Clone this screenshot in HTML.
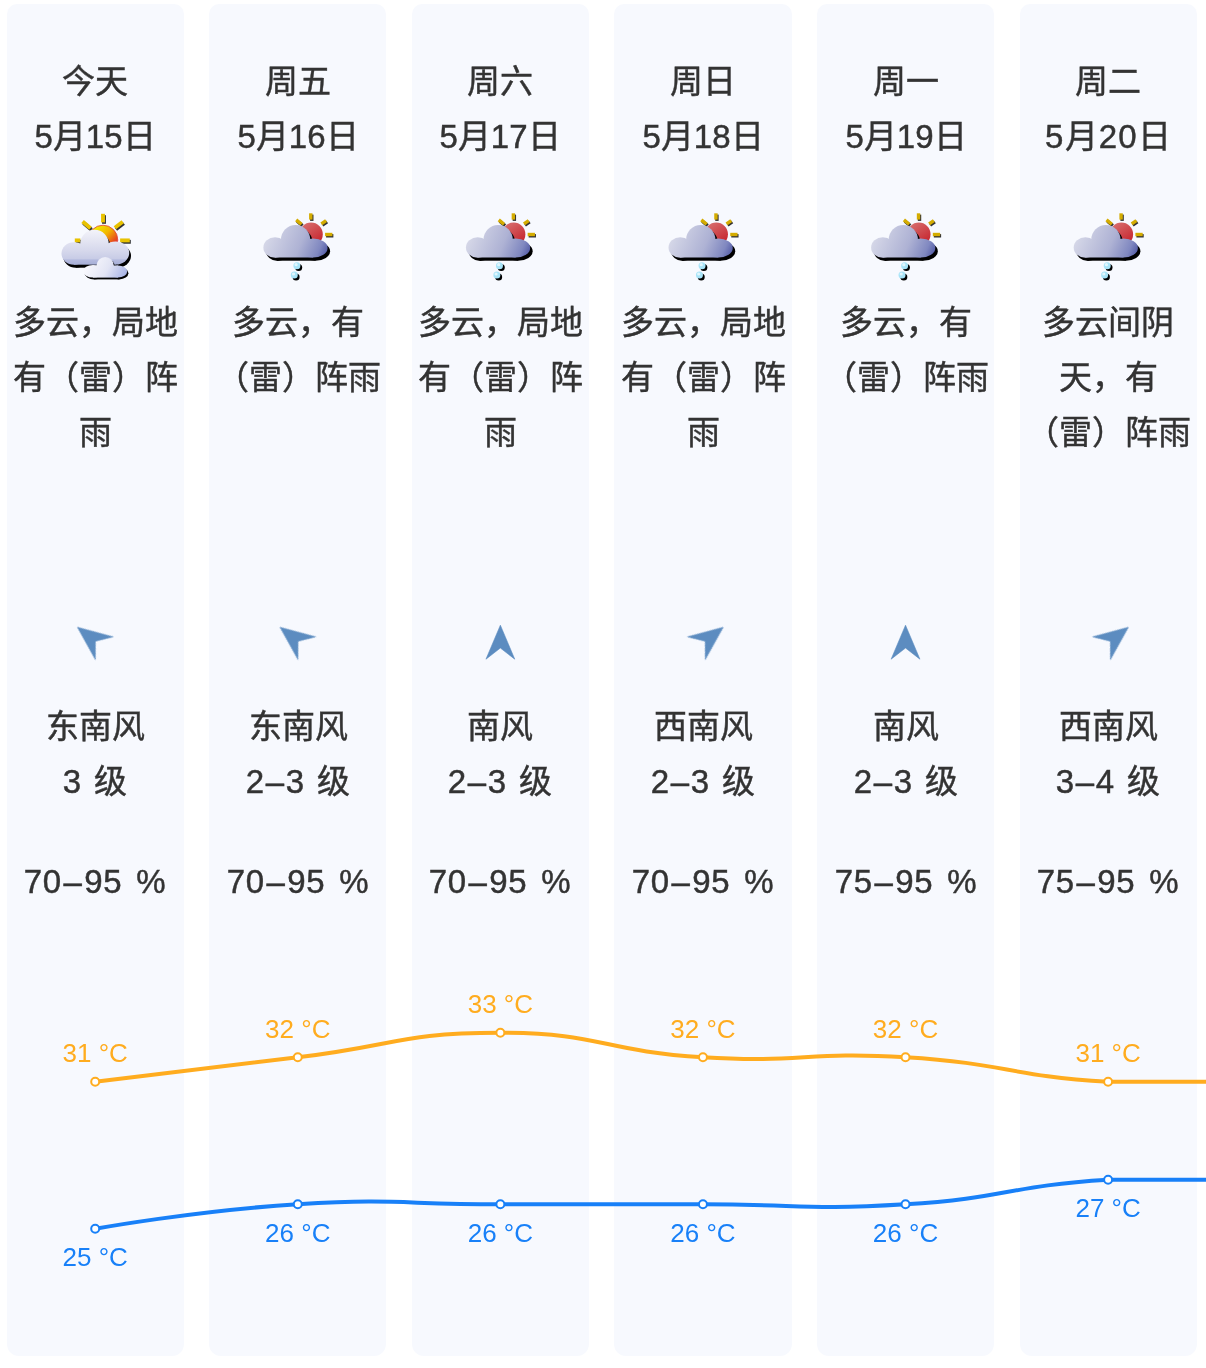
<!DOCTYPE html>
<html lang="zh-CN"><head><meta charset="utf-8"><style>
html,body{margin:0;padding:0;background:#fff;}
body{width:1206px;height:1368px;overflow:hidden;position:relative;font-family:"Liberation Sans",sans-serif;color:#333;}
.card{position:absolute;top:4px;width:177.2px;height:1352px;border-radius:10px 10px 12px 12px;background:#f7f9fe;}
.d{margin:0 1.6px;}
.t{will-change:transform;position:absolute;word-spacing:4px;width:240px;text-align:center;font-size:33px;line-height:55px;-webkit-text-stroke:0.45px #333;white-space:nowrap;}
svg{position:absolute;left:0;top:0;overflow:visible;}
</style></head><body>

<div class="card" style="left:6.70px"></div>
<div class="card" style="left:209.28px"></div>
<div class="card" style="left:411.86px"></div>
<div class="card" style="left:614.44px"></div>
<div class="card" style="left:817.02px"></div>
<div class="card" style="left:1019.60px"></div>
<div class="t" style="left:-24.80px;top:54px">今天<br>5月15日</div>
<div class="t" style="left:-24.80px;top:295px">多云，局地<br>有（雷）阵<br>雨</div>
<div class="t" style="left:-24.80px;top:699px">东南风<br>3 级</div>
<div class="t" style="left:-24.80px;top:854px;letter-spacing:0.7px">70<span class=d>–</span>95 %</div>
<div class="t" style="left:177.78px;top:54px">周五<br>5月16日</div>
<div class="t" style="left:177.78px;top:295px">多云，有<br>（雷）阵雨</div>
<div class="t" style="left:177.78px;top:699px">东南风<br>2<span class=d>–</span>3 级</div>
<div class="t" style="left:177.78px;top:854px;letter-spacing:0.7px">70<span class=d>–</span>95 %</div>
<div class="t" style="left:380.36px;top:54px">周六<br>5月17日</div>
<div class="t" style="left:380.36px;top:295px">多云，局地<br>有（雷）阵<br>雨</div>
<div class="t" style="left:380.36px;top:699px">南风<br>2<span class=d>–</span>3 级</div>
<div class="t" style="left:380.36px;top:854px;letter-spacing:0.7px">70<span class=d>–</span>95 %</div>
<div class="t" style="left:582.94px;top:54px">周日<br>5月18日</div>
<div class="t" style="left:582.94px;top:295px">多云，局地<br>有（雷）阵<br>雨</div>
<div class="t" style="left:582.94px;top:699px">西南风<br>2<span class=d>–</span>3 级</div>
<div class="t" style="left:582.94px;top:854px;letter-spacing:0.7px">70<span class=d>–</span>95 %</div>
<div class="t" style="left:785.52px;top:54px">周一<br>5月19日</div>
<div class="t" style="left:785.52px;top:295px">多云，有<br>（雷）阵雨</div>
<div class="t" style="left:785.52px;top:699px">南风<br>2<span class=d>–</span>3 级</div>
<div class="t" style="left:785.52px;top:854px;letter-spacing:0.7px">75<span class=d>–</span>95 %</div>
<div class="t" style="left:988.10px;top:54px">周二<br><span style="letter-spacing:1.2px;margin-right:-1.2px">5月20日</span></div>
<div class="t" style="left:988.10px;top:295px">多云间阴<br>天，有<br>（雷）阵雨</div>
<div class="t" style="left:988.10px;top:699px">西南风<br>3<span class=d>–</span>4 级</div>
<div class="t" style="left:988.10px;top:854px;letter-spacing:0.7px">75<span class=d>–</span>95 %</div>
<svg width="1206" height="1368" viewBox="0 0 1206 1368">
<defs><filter id="bl" x="-20%" y="-20%" width="140%" height="140%"><feGaussianBlur stdDeviation="0.45"/></filter><path id="arr" d="M0 -16.8 L14.4 17.2 L0 6 L-14.4 17.2 Z" fill="#5b8cc0" stroke="#5b8cc0" stroke-width="0.6" stroke-linejoin="round" filter="url(#bl)"/></defs>
<use href="#arr" transform="translate(90.70 637.6) rotate(-52)"/>
<use href="#arr" transform="translate(293.28 637.6) rotate(-52)"/>
<use href="#arr" transform="translate(500.36 642)"/>
<use href="#arr" transform="translate(709.94 637.6) rotate(52)"/>
<use href="#arr" transform="translate(905.52 642)"/>
<use href="#arr" transform="translate(1115.10 637.6) rotate(52)"/>
<path d="M95.20 1081.80 C95.20 1081.80 196.49 1069.55 297.78 1057.30 C399.07 1045.05 399.07 1032.80 500.36 1032.80 C601.65 1032.80 601.28 1051.15 702.94 1057.30 C803.86 1063.40 804.60 1051.20 905.52 1057.30 C1007.18 1063.45 1006.44 1075.65 1108.10 1081.80 C1209.02 1081.80 1310.68 1081.80 1310.68 1081.80" fill="none" stroke="#ffac1f" stroke-width="4"/>
<path d="M95.20 1228.80 C95.20 1228.80 196.12 1210.45 297.78 1204.30 C398.70 1198.20 399.07 1204.30 500.36 1204.30 C601.65 1204.30 601.65 1204.30 702.94 1204.30 C804.23 1204.30 804.60 1210.40 905.52 1204.30 C1007.18 1198.15 1006.44 1185.95 1108.10 1179.80 C1209.02 1179.80 1310.68 1179.80 1310.68 1179.80" fill="none" stroke="#1880f8" stroke-width="4"/>
<circle cx="95.20" cy="1081.80" r="4" fill="#fff" stroke="#ffac1f" stroke-width="2"/>
<circle cx="95.20" cy="1228.80" r="4" fill="#fff" stroke="#1880f8" stroke-width="2"/>
<text x="95.20" y="1062.30" text-anchor="middle" font-size="26" fill="#ffac1f" font-family="Liberation Sans">31 °C</text>
<text x="95.20" y="1266.30" text-anchor="middle" font-size="26" fill="#1880f8" font-family="Liberation Sans">25 °C</text>
<circle cx="297.78" cy="1057.30" r="4" fill="#fff" stroke="#ffac1f" stroke-width="2"/>
<circle cx="297.78" cy="1204.30" r="4" fill="#fff" stroke="#1880f8" stroke-width="2"/>
<text x="297.78" y="1037.80" text-anchor="middle" font-size="26" fill="#ffac1f" font-family="Liberation Sans">32 °C</text>
<text x="297.78" y="1241.80" text-anchor="middle" font-size="26" fill="#1880f8" font-family="Liberation Sans">26 °C</text>
<circle cx="500.36" cy="1032.80" r="4" fill="#fff" stroke="#ffac1f" stroke-width="2"/>
<circle cx="500.36" cy="1204.30" r="4" fill="#fff" stroke="#1880f8" stroke-width="2"/>
<text x="500.36" y="1013.30" text-anchor="middle" font-size="26" fill="#ffac1f" font-family="Liberation Sans">33 °C</text>
<text x="500.36" y="1241.80" text-anchor="middle" font-size="26" fill="#1880f8" font-family="Liberation Sans">26 °C</text>
<circle cx="702.94" cy="1057.30" r="4" fill="#fff" stroke="#ffac1f" stroke-width="2"/>
<circle cx="702.94" cy="1204.30" r="4" fill="#fff" stroke="#1880f8" stroke-width="2"/>
<text x="702.94" y="1037.80" text-anchor="middle" font-size="26" fill="#ffac1f" font-family="Liberation Sans">32 °C</text>
<text x="702.94" y="1241.80" text-anchor="middle" font-size="26" fill="#1880f8" font-family="Liberation Sans">26 °C</text>
<circle cx="905.52" cy="1057.30" r="4" fill="#fff" stroke="#ffac1f" stroke-width="2"/>
<circle cx="905.52" cy="1204.30" r="4" fill="#fff" stroke="#1880f8" stroke-width="2"/>
<text x="905.52" y="1037.80" text-anchor="middle" font-size="26" fill="#ffac1f" font-family="Liberation Sans">32 °C</text>
<text x="905.52" y="1241.80" text-anchor="middle" font-size="26" fill="#1880f8" font-family="Liberation Sans">26 °C</text>
<circle cx="1108.10" cy="1081.80" r="4" fill="#fff" stroke="#ffac1f" stroke-width="2"/>
<circle cx="1108.10" cy="1179.80" r="4" fill="#fff" stroke="#1880f8" stroke-width="2"/>
<text x="1108.10" y="1062.30" text-anchor="middle" font-size="26" fill="#ffac1f" font-family="Liberation Sans">31 °C</text>
<text x="1108.10" y="1217.30" text-anchor="middle" font-size="26" fill="#1880f8" font-family="Liberation Sans">27 °C</text>
<defs>
<linearGradient id="cg1" gradientUnits="userSpaceOnUse" x1="0" y1="229" x2="0" y2="265"><stop offset="0" stop-color="#f4f4fa"/><stop offset="0.6" stop-color="#d6d8ec"/><stop offset="0.82" stop-color="#c8cce6"/><stop offset="0.86" stop-color="#b4bade"/><stop offset="1" stop-color="#a6aed6"/></linearGradient>
<linearGradient id="cg1b" gradientUnits="userSpaceOnUse" x1="88" y1="258" x2="124" y2="278"><stop offset="0" stop-color="#fbfbfe"/><stop offset="0.55" stop-color="#e2e4f4"/><stop offset="1" stop-color="#a8b4e6"/></linearGradient>
<linearGradient id="sg1" gradientUnits="userSpaceOnUse" x1="96" y1="226" x2="116" y2="246"><stop offset="0" stop-color="#f0ee00"/><stop offset="0.45" stop-color="#f2b400"/><stop offset="0.8" stop-color="#e8501c"/><stop offset="1" stop-color="#e0283a"/></linearGradient>
<linearGradient id="cg2" gradientUnits="userSpaceOnUse" x1="268" y1="232" x2="326" y2="257"><stop offset="0" stop-color="#d6d8e8"/><stop offset="0.55" stop-color="#aeb2d4"/><stop offset="0.85" stop-color="#8088c0"/><stop offset="1" stop-color="#5058a4"/></linearGradient>
<linearGradient id="sg2" gradientUnits="userSpaceOnUse" x1="304" y1="222" x2="320" y2="246"><stop offset="0" stop-color="#d87070"/><stop offset="1" stop-color="#c41c26"/></linearGradient>
<linearGradient id="dg" gradientUnits="userSpaceOnUse" x1="0" y1="-3.5" x2="0" y2="3.5"><stop offset="0" stop-color="#d8f4fc"/><stop offset="1" stop-color="#8ad6f2"/></linearGradient>
<g id="icon1">
 <g stroke="#000" stroke-width="3.9" opacity="0.8" transform="translate(1,1.4)">
  <line x1="103" y1="213.8" x2="103" y2="222.4"/><line x1="82.6" y1="221.6" x2="90.5" y2="228.3"/><line x1="122.7" y1="221.8" x2="114.9" y2="227.8"/><line x1="74.8" y1="240.4" x2="80.3" y2="240.4"/><line x1="120.1" y1="240.4" x2="129.8" y2="240.4"/>
 </g>
 <g stroke="#e8c200" stroke-width="3.9">
  <line x1="103" y1="213.8" x2="103" y2="222.4"/><line x1="82.6" y1="221.6" x2="90.5" y2="228.3"/><line x1="122.7" y1="221.8" x2="114.9" y2="227.8"/><line x1="74.8" y1="240.4" x2="80.3" y2="240.4"/><line x1="120.1" y1="240.4" x2="129.8" y2="240.4"/>
 </g>
 <circle cx="103" cy="240" r="14.8" fill="url(#sg1)" stroke="#e04040" stroke-width="0.8"/>
 <g fill="#000" transform="translate(1.8,3)"><ellipse cx="74" cy="253.5" rx="12.5" ry="11.3"/><circle cx="94.5" cy="244" r="14.3"/><ellipse cx="115.5" cy="253" rx="13.7" ry="11.5"/><rect x="74" y="250" width="41.5" height="14.7"/></g>
 <g fill="url(#cg1)"><ellipse cx="74" cy="253.5" rx="12.5" ry="11.3"/><circle cx="94.5" cy="244" r="14.3"/><ellipse cx="115.5" cy="253" rx="13.7" ry="11.5"/><rect x="74" y="250" width="41.5" height="14.7"/></g>
 <g fill="#000" transform="translate(1.2,1.8)"><circle cx="105.2" cy="265.5" r="8.6"/><ellipse cx="93" cy="271.3" rx="9.8" ry="6.3"/><ellipse cx="118" cy="271.5" rx="9.2" ry="6.1"/><rect x="93" y="265.5" width="25" height="12.1"/></g>
 <g fill="url(#cg1b)"><circle cx="105.2" cy="265.5" r="8.6"/><ellipse cx="93" cy="271.3" rx="9.8" ry="6.3"/><ellipse cx="118" cy="271.5" rx="9.2" ry="6.1"/><rect x="93" y="265.5" width="25" height="12.1"/></g>
</g>
<g id="icon2">
 <g stroke="#000" stroke-width="3.4" opacity="0.8" transform="translate(1,1.3)">
  <line x1="310.7" y1="213.3" x2="310.7" y2="219.6"/><line x1="296.1" y1="219.9" x2="301.4" y2="224.3"/><line x1="326" y1="220.6" x2="321.3" y2="223.9"/><line x1="325" y1="234.5" x2="332.3" y2="234.5"/>
 </g>
 <g stroke="#d4ac00" stroke-width="3.4">
  <line x1="310.7" y1="213.3" x2="310.7" y2="219.6"/><line x1="296.1" y1="219.9" x2="301.4" y2="224.3"/><line x1="326" y1="220.6" x2="321.3" y2="223.9"/><line x1="325" y1="234.5" x2="332.3" y2="234.5"/>
 </g>
 <circle cx="311" cy="234.2" r="11.7" fill="url(#sg2)"/>
 <g fill="#000" transform="translate(2.5,3.2)"><ellipse cx="275" cy="247.5" rx="11.7" ry="10.3"/><circle cx="295.5" cy="239.5" r="14.6"/><ellipse cx="313" cy="248" rx="14.5" ry="9.5"/><rect x="275" y="246" width="38" height="11.5"/></g>
 <g fill="url(#cg2)"><ellipse cx="275" cy="247.5" rx="11.7" ry="10.3"/><circle cx="295.5" cy="239.5" r="14.6"/><ellipse cx="313" cy="248" rx="14.5" ry="9.5"/><rect x="275" y="246" width="38" height="11.5"/></g>
 <g fill="#000"><circle cx="298.6" cy="267.6" r="3.5"/><circle cx="296" cy="276.9" r="3.5"/></g>
 <circle cx="296.8" cy="265.7" r="3.5" fill="#a8e4f8"/><circle cx="294.2" cy="275" r="3.5" fill="#a8e4f8"/>
 <circle cx="296" cy="264.7" r="1.6" fill="#e0f6fd"/><circle cx="293.4" cy="274" r="1.6" fill="#e0f6fd"/>
</g>
</defs>
<use href="#icon1"/>
<use href="#icon2" transform="translate(0.08 0)"/>
<use href="#icon2" transform="translate(202.66 0)"/>
<use href="#icon2" transform="translate(405.24 0)"/>
<use href="#icon2" transform="translate(607.82 0)"/>
<use href="#icon2" transform="translate(810.40 0)"/>
</svg>
</body></html>
